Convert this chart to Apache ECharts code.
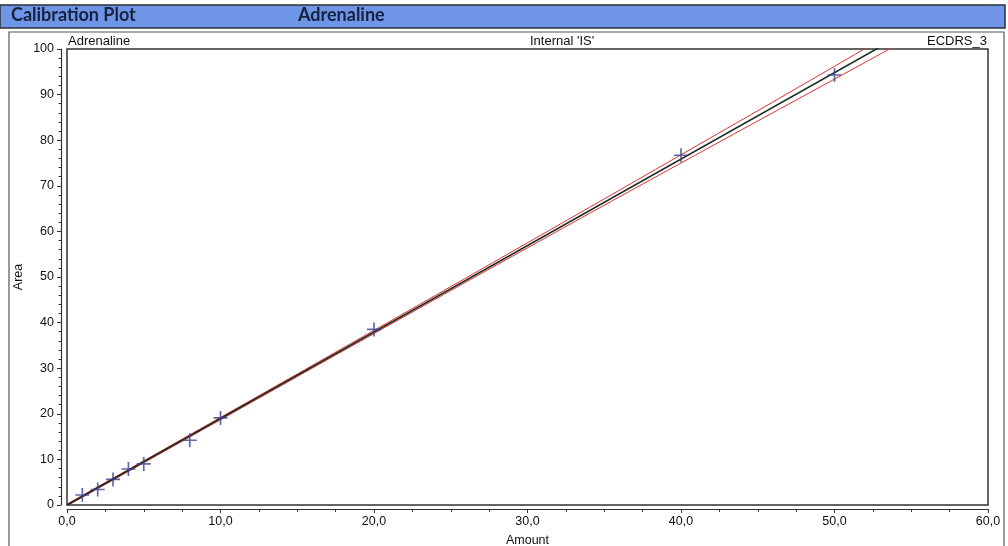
<!DOCTYPE html>
<html><head><meta charset="utf-8">
<script src="https://cdn.jsdelivr.net/npm/echarts@6/dist/echarts.min.js"></script>
<style>html,body{margin:0;padding:0;background:#fff}#c{width:1008px;height:546px}</style>
</head><body><div id="c"></div>
<script>
// Calibration standards (Amount vs Area)
const amounts = [1, 2, 3, 4, 5, 8, 10, 20, 40, 50];
const areas = [2.2, 3.4, 5.6, 7.9, 9.0, 14.2, 19.1, 38.5, 76.7, 94.3];
// Regression line
const fitX = [0, 55];
const fitY = [0, 104.3];
// Confidence band
const bandX = [0, 10, 20, 30, 40, 50, 55];
const bandUpper = [0.2, 19.2, 38.3, 57.5, 76.8, 96.2, 106.1];
const bandLower = [-0.2, 18.7, 37.6, 56.4, 75.0, 93.4, 102.6];
const xTicks = [0, 10, 20, 30, 40, 50, 60];
const yTicks = [0, 10, 20, 30, 40, 50, 60, 70, 80, 90, 100];

const zip = (a, b) => a.map((v, i) => [v, b[i]]);
const chart = echarts.init(document.getElementById('c'), null, {renderer: 'canvas'});
const font = 'Liberation Sans, Arial, sans-serif';
chart.setOption({
  animation: false,
  backgroundColor: '#fff',
  graphic: [
    {type: 'rect', shape: {x: 0, y: 5, width: 1005, height: 23}, style: {fill: '#6e95e6', stroke: '#2a2f3a', lineWidth: 1.5}, z: 0},
    {type: 'text', left: 11, top: 6, style: {text: 'Calibration Plot', font: 'bold 18px Lato, "Open Sans", sans-serif', fill: '#16213f'}},
    {type: 'text', left: 298, top: 6, style: {text: 'Adrenaline', font: 'bold 18px Lato, "Open Sans", sans-serif', fill: '#16213f'}},
    {type: 'rect', shape: {x: 9, y: 32, width: 995, height: 520}, style: {fill: 'none', stroke: '#555', lineWidth: 1.2}, z: 0},
    {type: 'text', left: 68, top: 35, style: {text: 'Adrenaline', font: '13px ' + font, fill: '#111'}},
    {type: 'text', left: 530, top: 35, style: {text: "Internal 'IS'", font: '13px ' + font, fill: '#111', textAlign: 'center'}},
    {type: 'text', right: 21, top: 35, style: {text: 'ECDRS_3', font: '13px ' + font, fill: '#111'}}
  ],
  grid: {left: 67, right: 20, top: 49, bottom: 41, outerBoundsMode: 'none', containLabel: false,
    show: true, borderColor: '#333', borderWidth: 1.5, backgroundColor: '#fff'},
  xAxis: {
    type: 'value', min: 0, max: 60, interval: 10, offset: 4,
    name: 'Amount', nameLocation: 'middle', nameGap: 25, nameMoveOverlap: false,
    nameTextStyle: {fontFamily: font, fontSize: 12.5, color: '#111'},
    axisLine: {show: true, onZero: false, lineStyle: {color: '#333', width: 1.2}},
    axisTick: {show: true, length: 4, lineStyle: {color: '#333'}},
    minorTick: {show: true, splitNumber: 4, length: 3, lineStyle: {color: '#333'}},
    splitLine: {show: false},
    axisLabel: {fontFamily: font, fontSize: 12.5, color: '#111', margin: 6,
      formatter: v => xTicks.includes(v) ? v.toFixed(1).replace('.', ',') : ''}
  },
  yAxis: {
    type: 'value', min: 0, max: 100, interval: 10, offset: 6,
    name: 'Area', nameLocation: 'middle', nameGap: 36, nameRotate: 90, nameMoveOverlap: false,
    nameTextStyle: {fontFamily: font, fontSize: 12.5, color: '#111'},
    axisLine: {show: true, onZero: false, lineStyle: {color: '#333', width: 1.2}},
    axisTick: {show: true, length: 4, lineStyle: {color: '#333'}},
    minorTick: {show: true, splitNumber: 5, length: 2.5, lineStyle: {color: '#333'}},
    splitLine: {show: false},
    axisLabel: {fontFamily: font, fontSize: 12.5, color: '#111', margin: 7,
      formatter: v => yTicks.includes(v) ? String(v) : ''}
  },
  series: [
    {type: 'line', data: zip(bandX, bandUpper), smooth: true, symbol: 'none', clip: true,
      lineStyle: {color: '#e0302f', width: 1}, z: 2},
    {type: 'line', data: zip(bandX, bandLower), smooth: true, symbol: 'none', clip: true,
      lineStyle: {color: '#e0302f', width: 1}, z: 2},
    {type: 'line', data: zip(fitX, fitY), symbol: 'none', clip: true,
      lineStyle: {color: '#1b2a22', width: 1.6}, z: 3},
    {type: 'scatter', data: zip(amounts, areas), symbol: 'path://M4.4,0h1.2v10h-1.2zM0,4.4h10v1.2h-10z',
      symbolSize: 14, itemStyle: {color: '#34438f'}, z: 4}
  ]
});
</script></body></html>
